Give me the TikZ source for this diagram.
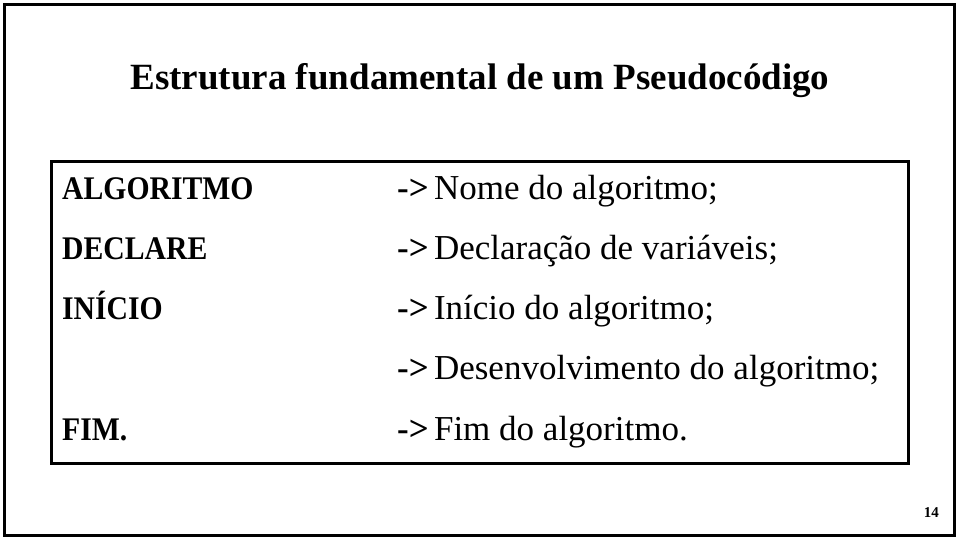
\documentclass[tikz,border=0pt]{standalone}
\usepackage{fontspec}
\setmainfont{Liberation Serif}
\begin{document}
\begin{tikzpicture}[x=1pt,y=-1pt,
  frame/.style={draw=black,line width=3pt},
  lefttxt/.style={anchor=base west,inner sep=0pt,font=\fontsize{33}{40}\selectfont\bfseries,xscale=0.9},
  righttxt/.style={anchor=base west,inner sep=0pt,font=\fontsize{35}{42}\selectfont},
  titletxt/.style={anchor=base,inner sep=0pt,font=\fontsize{37}{44}\selectfont\bfseries},
  pagetxt/.style={anchor=base east,inner sep=0pt,font=\fontsize{15}{18}\selectfont\bfseries}]
\useasboundingbox (0,0) rectangle (960,540);
\fill[white] (0,0) rectangle (960,540);
\draw[frame] (4.5,4.5) rectangle (954.5,535.5);
\node[titletxt] (title) at (480,90) {Estrutura fundamental de um Pseudocódigo};
\draw[frame] (51.5,161.5) rectangle (908.5,463.5);
\node[lefttxt] (l1) at (62,199) {ALGORITMO};
\node[lefttxt] (l2) at (62,259) {DECLARE};
\node[lefttxt] (l3) at (62,319) {INÍCIO};
\node[lefttxt] (l5) at (62,440) {FIM.};
\node[righttxt] (r1) at (397,199) {\textbf{->}\hspace{0.15em}Nome do algoritmo;};
\node[righttxt] (r2) at (397,259) {\textbf{->}\hspace{0.15em}Declaração de variáveis;};
\node[righttxt] (r3) at (397,319) {\textbf{->}\hspace{0.15em}Início do algoritmo;};
\node[righttxt] (r4) at (397,379) {\textbf{->}\hspace{0.15em}Desenvolvimento do algoritmo;};
\node[righttxt] (r5) at (397,440) {\textbf{->}\hspace{0.15em}Fim do algoritmo.};
\node[pagetxt] (page) at (939,517) {14};
\end{tikzpicture}
\end{document}
